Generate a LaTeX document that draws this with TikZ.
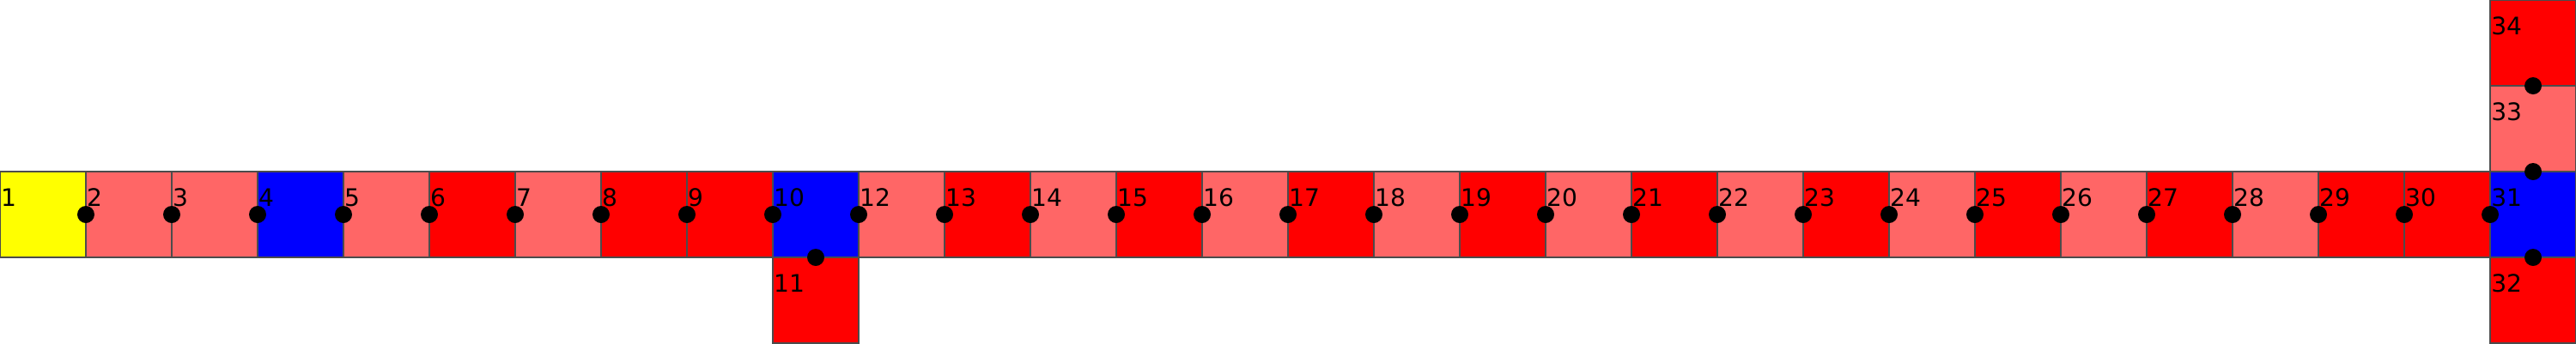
\documentclass[tikz,border=0pt]{standalone}
\usepackage{fontspec}
\setmainfont{DejaVu Sans}
\usepackage{tikz}
\usetikzlibrary{positioning,calc}
\definecolor{cStart}{HTML}{FFFF00}
\definecolor{cLight}{HTML}{FF6666}
\definecolor{cRed}{HTML}{FF0000}
\definecolor{cJunc}{HTML}{0000FF}

\begin{document}
\begin{tikzpicture}[
    node distance=0cm,
    sq/.style={rectangle, draw=black!70, line width=0.4pt, minimum size=1cm, inner sep=0pt, outer sep=0pt},
    num/.style={anchor=base west, inner sep=0pt, xshift=0.005cm, yshift=-0.4cm, font=\fontsize{8}{9}\selectfont, text=black},
    dot/.style={circle, fill=black, minimum size=0.2cm, inner sep=0pt}
]
\useasboundingbox (-0.5,-1.5) rectangle (29.5,2.5);
\node[sq, fill=cStart, label={[num]north west:1}] (s1) at (0,0) {};
\node[sq, fill=cLight, right=of s1, label={[num]north west:2}] (s2) {};
\node[sq, fill=cLight, right=of s2, label={[num]north west:3}] (s3) {};
\node[sq, fill=cJunc, right=of s3, label={[num]north west:4}] (s4) {};
\node[sq, fill=cLight, right=of s4, label={[num]north west:5}] (s5) {};
\node[sq, fill=cRed, right=of s5, label={[num]north west:6}] (s6) {};
\node[sq, fill=cLight, right=of s6, label={[num]north west:7}] (s7) {};
\node[sq, fill=cRed, right=of s7, label={[num]north west:8}] (s8) {};
\node[sq, fill=cRed, right=of s8, label={[num]north west:9}] (s9) {};
\node[sq, fill=cJunc, right=of s9, label={[num]north west:10}] (s10) {};
\node[sq, fill=cRed, below=of s10, label={[num]north west:11}] (s11) {};
\node[sq, fill=cLight, right=of s10, label={[num]north west:12}] (s12) {};
\node[sq, fill=cRed, right=of s12, label={[num]north west:13}] (s13) {};
\node[sq, fill=cLight, right=of s13, label={[num]north west:14}] (s14) {};
\node[sq, fill=cRed, right=of s14, label={[num]north west:15}] (s15) {};
\node[sq, fill=cLight, right=of s15, label={[num]north west:16}] (s16) {};
\node[sq, fill=cRed, right=of s16, label={[num]north west:17}] (s17) {};
\node[sq, fill=cLight, right=of s17, label={[num]north west:18}] (s18) {};
\node[sq, fill=cRed, right=of s18, label={[num]north west:19}] (s19) {};
\node[sq, fill=cLight, right=of s19, label={[num]north west:20}] (s20) {};
\node[sq, fill=cRed, right=of s20, label={[num]north west:21}] (s21) {};
\node[sq, fill=cLight, right=of s21, label={[num]north west:22}] (s22) {};
\node[sq, fill=cRed, right=of s22, label={[num]north west:23}] (s23) {};
\node[sq, fill=cLight, right=of s23, label={[num]north west:24}] (s24) {};
\node[sq, fill=cRed, right=of s24, label={[num]north west:25}] (s25) {};
\node[sq, fill=cLight, right=of s25, label={[num]north west:26}] (s26) {};
\node[sq, fill=cRed, right=of s26, label={[num]north west:27}] (s27) {};
\node[sq, fill=cLight, right=of s27, label={[num]north west:28}] (s28) {};
\node[sq, fill=cRed, right=of s28, label={[num]north west:29}] (s29) {};
\node[sq, fill=cRed, right=of s29, label={[num]north west:30}] (s30) {};
\node[sq, fill=cJunc, right=of s30, label={[num]north west:31}] (s31) {};
\node[sq, fill=cRed, below=of s31, label={[num]north west:32}] (s32) {};
\node[sq, fill=cLight, above=of s31, label={[num]north west:33}] (s33) {};
\node[sq, fill=cRed, above=of s33, label={[num]north west:34}] (s34) {};

% links between neighbouring cells
\foreach \a/\b in {s1/s2, s2/s3, s3/s4, s4/s5, s5/s6, s6/s7, s7/s8, s8/s9, s9/s10,
    s10/s11, s10/s12, s12/s13, s13/s14, s14/s15, s15/s16, s16/s17, s17/s18,
    s18/s19, s19/s20, s20/s21, s21/s22, s22/s23, s23/s24, s24/s25, s25/s26,
    s26/s27, s27/s28, s28/s29, s29/s30, s30/s31, s31/s32, s31/s33, s33/s34} {
  \node[dot] (d-\a-\b) at ($(\a)!0.5!(\b)$) {};
}
\end{tikzpicture}
\end{document}
